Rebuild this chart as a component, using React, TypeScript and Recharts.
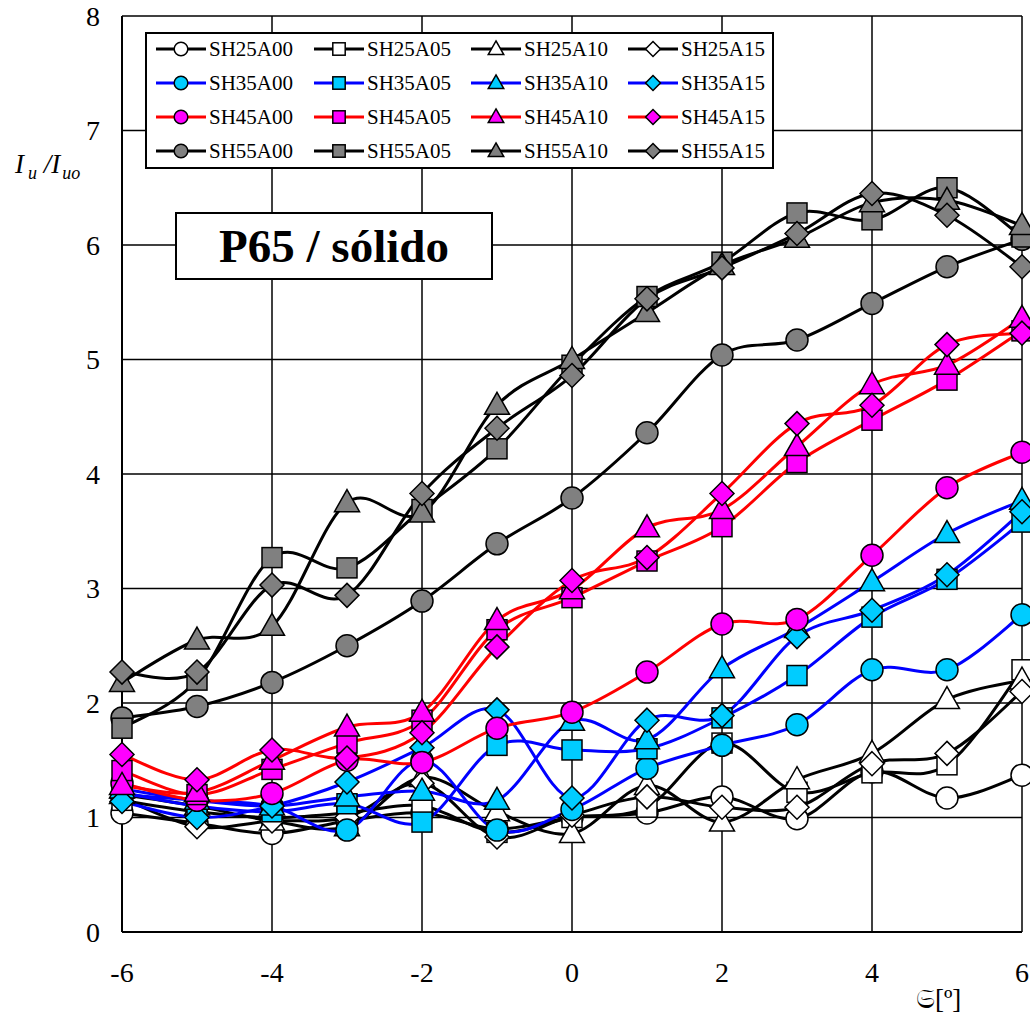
import React from 'react';
import { LineChart, Line, XAxis, YAxis, CartesianGrid } from 'recharts';

const xValues = [-6, -5, -4, -3, -2, -1, 0, 1, 2, 3, 4, 5, 6];
const xTicks = [-6, -4, -2, 0, 2, 4, 6];
const yTicks = [0, 1, 2, 3, 4, 5, 6, 7, 8];

const SH25A00 = [1.04, 0.95, 0.86, 0.97, 1.04, 0.9, 1.0, 1.04, 1.18, 0.99, 1.4, 1.17, 1.37];
const SH25A05 = [1.15, 1.05, 1.0, 1.04, 1.1, 0.87, 1.0, 1.09, 1.65, 1.22, 1.39, 1.46, 2.29];
const SH25A10 = [1.2, 1.1, 0.97, 0.92, 1.35, 1.05, 0.86, 1.28, 0.96, 1.33, 1.56, 2.03, 2.2];
const SH25A15 = [1.17, 0.92, 0.97, 1.0, 1.3, 0.83, 1.02, 1.18, 1.09, 1.09, 1.47, 1.56, 2.1];

const SH35A00 = [1.2, 1.15, 1.1, 0.89, 1.5, 0.89, 1.07, 1.43, 1.63, 1.81, 2.29, 2.29, 2.77];
const SH35A05 = [1.22, 1.1, 1.05, 1.12, 0.96, 1.63, 1.59, 1.6, 1.87, 2.24, 2.75, 3.08, 3.58];
const SH35A10 = [1.25, 1.15, 1.1, 1.18, 1.23, 1.15, 1.84, 1.68, 2.3, 2.65, 3.06, 3.48, 3.77];
const SH35A15 = [1.14, 1.0, 1.1, 1.31, 1.61, 1.94, 1.17, 1.85, 1.89, 2.58, 2.81, 3.12, 3.67];

const SH45A00 = [1.3, 1.15, 1.21, 1.5, 1.48, 1.78, 1.92, 2.27, 2.69, 2.73, 3.29, 3.88, 4.19];
const SH45A05 = [1.41, 1.2, 1.42, 1.65, 1.85, 2.64, 2.92, 3.24, 3.54, 4.1, 4.47, 4.82, 5.25];
const SH45A10 = [1.28, 1.22, 1.5, 1.79, 1.92, 2.72, 2.99, 3.53, 3.69, 4.24, 4.78, 4.95, 5.36];
const SH45A15 = [1.55, 1.33, 1.59, 1.52, 1.74, 2.49, 3.07, 3.27, 3.83, 4.44, 4.6, 5.13, 5.23];

const SH55A00 = [1.87, 1.97, 2.18, 2.5, 2.89, 3.39, 3.79, 4.36, 5.04, 5.17, 5.49, 5.81, 6.05];
const SH55A05 = [1.78, 2.2, 3.27, 3.18, 3.69, 4.22, 4.95, 5.55, 5.85, 6.28, 6.22, 6.5, 6.07];
const SH55A10 = [2.18, 2.55, 2.67, 3.75, 3.66, 4.6, 5.0, 5.41, 5.82, 6.06, 6.37, 6.39, 6.17];
const SH55A15 = [2.27, 2.27, 3.03, 2.94, 3.83, 4.4, 4.86, 5.53, 5.8, 6.1, 6.45, 6.26, 5.81];

type Shape = 'circle' | 'square' | 'triangle' | 'diamond';

const groups = [
  { prefix: 'SH25', line: '#000000', fill: '#FFFFFF', values: [SH25A00, SH25A05, SH25A10, SH25A15] },
  { prefix: 'SH35', line: '#0000FF', fill: '#00CCFF', values: [SH35A00, SH35A05, SH35A10, SH35A15] },
  { prefix: 'SH45', line: '#FF0000', fill: '#FF00FF', values: [SH45A00, SH45A05, SH45A10, SH45A15] },
  { prefix: 'SH55', line: '#000000', fill: '#808080', values: [SH55A00, SH55A05, SH55A10, SH55A15] },
];
const suffixes = ['A00', 'A05', 'A10', 'A15'];
const shapes: Shape[] = ['circle', 'square', 'triangle', 'diamond'];

const series = groups.flatMap((g) =>
  suffixes.map((s, j) => ({
    name: g.prefix + s,
    line: g.line,
    fill: g.fill,
    shape: shapes[j],
    values: g.values[j],
  }))
);

const data = xValues.map((x, i) => {
  const row: Record<string, number> = { x };
  series.forEach((s) => {
    row[s.name] = s.values[i];
  });
  return row;
});

const FONT = '"Liberation Serif", "Times New Roman", serif';

function Marker({ cx, cy, shape, fill, k = 1 }: { cx: number; cy: number; shape: Shape; fill: string; k?: number }) {
  const common = { fill, stroke: '#000', strokeWidth: 1.5 };
  if (shape === 'circle') return <circle cx={cx} cy={cy} r={11 * k} {...common} />;
  if (shape === 'square') return <rect x={cx - 10 * k} y={cy - 10 * k} width={20 * k} height={20 * k} {...common} />;
  if (shape === 'triangle')
    return (
      <polygon
        points={`${cx},${cy - 13 * k} ${cx + 12.5 * k},${cy + 9 * k} ${cx - 12.5 * k},${cy + 9 * k}`}
        {...common}
      />
    );
  return (
    <polygon
      points={`${cx},${cy - 12 * k} ${cx + 12 * k},${cy} ${cx},${cy + 12 * k} ${cx - 12 * k},${cy}`}
      {...common}
    />
  );
}

// Excel-like smoothed line (Catmull-Rom through the points)
const excelCurve = (context: any) => {
  let pts: number[][] = [];
  return {
    areaStart() {},
    areaEnd() {},
    lineStart() {
      pts = [];
    },
    point(x: number, y: number) {
      pts.push([+x, +y]);
    },
    lineEnd() {
      const n = pts.length;
      if (!n) return;
      context.moveTo(pts[0][0], pts[0][1]);
      for (let i = 0; i < n - 1; i++) {
        const p0 = pts[Math.max(i - 1, 0)];
        const p1 = pts[i];
        const p2 = pts[i + 1];
        const p3 = pts[Math.min(i + 2, n - 1)];
        context.bezierCurveTo(
          p1[0] + (p2[0] - p0[0]) / 6,
          p1[1] + (p2[1] - p0[1]) / 6,
          p2[0] - (p3[0] - p1[0]) / 6,
          p2[1] - (p3[1] - p1[1]) / 6,
          p2[0],
          p2[1]
        );
      }
    },
  };
};

function LegendBox() {
  const left = 146;
  const top = 33;
  const width = 627;
  const height = 135;
  const colX = [156, 314, 471, 628];
  const rowY = [49, 83, 117, 151];
  return (
    <svg
      width={width + 4}
      height={height + 4}
      style={{ position: 'absolute', left: left - 2, top: top - 2, overflow: 'visible' }}
    >
      <g transform="translate(2,2)">
        <rect x={0} y={0} width={width} height={height} fill="#fff" stroke="#000" strokeWidth={2} />
        {series.map((s, idx) => {
          const col = idx % 4;
          const row = Math.floor(idx / 4);
          const x0 = colX[col] - left;
          const y0 = rowY[row] - top;
          return (
            <g key={s.name}>
              <line x1={x0} y1={y0} x2={x0 + 50} y2={y0} stroke={s.line} strokeWidth={3} />
              <Marker cx={x0 + 25} cy={y0} shape={s.shape} fill={s.fill} k={0.62} />
              <text x={x0 + 53} y={y0 + 7} fontFamily={FONT} fontSize={21} fill="#000">
                {s.name}
              </text>
            </g>
          );
        })}
      </g>
    </svg>
  );
}

export default function App() {
  return (
    <div style={{ position: 'absolute', left: 0, top: 0, width: 1030, height: 1016, overflow: 'hidden', background: '#fff' }}>
      <LineChart width={1030} height={1016} data={data} margin={{ top: 16, right: 8, bottom: 24, left: 62 }}>
        <CartesianGrid stroke="#000" strokeWidth={1.5} strokeOpacity={1} />
        <XAxis
          dataKey="x"
          type="number"
          domain={[-6, 6]}
          ticks={xTicks}
          height={60}
          tickLine={false}
          tickMargin={24}
          axisLine={{ stroke: '#000', strokeWidth: 2 }}
          tick={{ fontFamily: FONT, fontSize: 28, fill: '#000' }}
          interval={0}
        />
        <YAxis
          type="number"
          domain={[0, 8]}
          ticks={yTicks}
          width={60}
          tickLine={false}
          tickMargin={16}
          axisLine={{ stroke: '#000', strokeWidth: 2 }}
          tick={{ fontFamily: FONT, fontSize: 28, fill: '#000' }}
          interval={0}
        />
        {series.map((s) => (
          <Line
            key={s.name}
            dataKey={s.name}
            type={excelCurve as any}
            stroke={s.line}
            strokeWidth={3}
            isAnimationActive={false}
            activeDot={false}
            dot={(p: any) => <Marker key={`${s.name}-${p.index}`} cx={p.cx} cy={p.cy} shape={s.shape} fill={s.fill} />}
          />
        ))}
      </LineChart>
      <LegendBox />
      <div
        style={{
          position: 'absolute',
          left: 175,
          top: 212,
          width: 314,
          height: 64,
          border: '2px solid #000',
          background: '#fff',
          display: 'flex',
          alignItems: 'center',
          justifyContent: 'center',
          fontFamily: FONT,
          fontWeight: 'bold',
          fontSize: 47,
          lineHeight: 1,
        }}
      >
        P65 / sólido
      </div>
      <div
        style={{
          position: 'absolute',
          left: 15,
          top: 151,
          fontFamily: FONT,
          fontStyle: 'italic',
          fontSize: 27,
          lineHeight: 1,
          whiteSpace: 'nowrap',
        }}
      >
        I<span style={{ fontSize: 18, position: 'relative', top: 6, marginLeft: 4 }}>u</span> /I
        <span style={{ fontSize: 18, position: 'relative', top: 6, marginLeft: 2 }}>uo</span>
      </div>
      <div
        style={{
          position: 'absolute',
          left: 916,
          top: 986,
          fontFamily: FONT,
          fontSize: 27,
          lineHeight: 1,
          whiteSpace: 'nowrap',
        }}
      >
        𝔖[º]
      </div>
    </div>
  );
}
